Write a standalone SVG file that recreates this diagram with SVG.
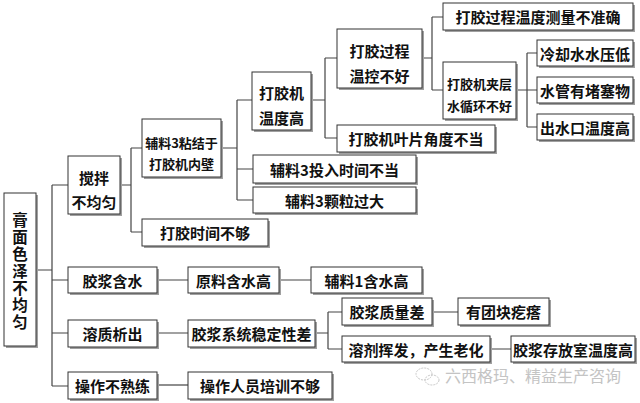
<svg xmlns="http://www.w3.org/2000/svg" width="640" height="403" viewBox="0 0 640 403">
<style>
.s{fill:#a0a0a0}
.b{fill:#fff;stroke:#333;stroke-width:1}
text{font-family:"Noto Sans CJK SC","Liberation Sans",sans-serif;font-weight:bold;fill:#111;text-anchor:middle;dominant-baseline:central}
.t15{font-size:15px}
.t13{font-size:13px}
.vt{font-size:15.5px;writing-mode:vertical-rl;text-anchor:start;letter-spacing:1.5px}
.c path{fill:none;stroke:#444;stroke-width:1.2}
.wm{font-size:16px;font-weight:normal;fill:#c4c4c4;text-anchor:start}
</style>
<rect width="640" height="403" fill="#fff"/>
<g class="c" id="connectors">
<path d="M36 270H52M52 185V386M52 185H68M52 280H68M52 333H68M52 386H68"/>
<path d="M120 185H131M131 148V232M131 148H142M131 232H142"/>
<path d="M221 148H237M237 100V200M237 100H252M237 169H253M237 200H253"/>
<path d="M311 100H325M325 58V138M325 58H337M325 138H337"/>
<path d="M422 58H432M432 17V90M432 17H443M432 90H443"/>
<path d="M516 90H527M527 53V127M527 53H537M527 90H537M527 127H537"/>
<path d="M157 280H188M279 280H311"/>
<path d="M157 333H188M315 333H328M328 312V349M328 312H342M328 349H342M432 312H458M490 349H511"/>
<path d="M157 385H188"/>
</g>
<g id="root"><rect class="s" x="6" y="195" width="32" height="153"/><rect class="b" x="4" y="193" width="32" height="153"/>
<text class="vt" x="20" y="212">膏面色泽不均匀</text></g>
<g id="n1"><rect class="s" x="70" y="158" width="52" height="58"/><rect class="b" x="68" y="156" width="52" height="58"/><text class="t15" x="94" y="177">搅拌</text><text class="t15" x="94" y="201">不均匀</text></g>
<g id="n2"><rect class="s" x="70" y="269" width="89" height="26"/><rect class="b" x="68" y="267" width="89" height="26"/><text class="t15" x="112.5" y="280">胶浆含水</text></g>
<g id="n3"><rect class="s" x="70" y="322" width="89" height="27"/><rect class="b" x="68" y="320" width="89" height="27"/><text class="t15" x="112.5" y="333.5">溶质析出</text></g>
<g id="n4"><rect class="s" x="70" y="374" width="89" height="27"/><rect class="b" x="68" y="372" width="89" height="27"/><text class="t15" x="112.5" y="385.5">操作不熟练</text></g>
<g id="n5"><rect class="s" x="144" y="121" width="79" height="58"/><rect class="b" x="142" y="119" width="79" height="58"/><text class="t13" x="181.5" y="142">辅料3粘结于</text><text class="t13" x="181.5" y="163">打胶机内壁</text></g>
<g id="n6"><rect class="s" x="144" y="221" width="126" height="27"/><rect class="b" x="142" y="219" width="126" height="27"/><text class="t15" x="205" y="232.5">打胶时间不够</text></g>
<g id="n7"><rect class="s" x="254" y="74" width="59" height="58"/><rect class="b" x="252" y="72" width="59" height="58"/><text class="t15" x="281.5" y="92">打胶机</text><text class="t15" x="281.5" y="117">温度高</text></g>
<g id="n8"><rect class="s" x="255" y="157" width="163" height="28"/><rect class="b" x="253" y="155" width="163" height="28"/><text class="t15" x="334.5" y="169">辅料3投入时间不当</text></g>
<g id="n9"><rect class="s" x="255" y="189" width="163" height="26"/><rect class="b" x="253" y="187" width="163" height="26"/><text class="t15" x="334.5" y="200">辅料3颗粒过大</text></g>
<g id="n10"><rect class="s" x="339" y="31" width="85" height="59"/><rect class="b" x="337" y="29" width="85" height="59"/><text class="t15" x="379.5" y="50">打胶过程</text><text class="t15" x="379.5" y="75">温控不好</text></g>
<g id="n11"><rect class="s" x="339" y="127" width="158" height="27"/><rect class="b" x="337" y="125" width="158" height="27"/><text class="t15" x="416" y="138.5">打胶机叶片角度不当</text></g>
<g id="n12"><rect class="s" x="445" y="5" width="190" height="27"/><rect class="b" x="443" y="3" width="190" height="27"/><text class="t15" x="538" y="16.5">打胶过程温度测量不准确</text></g>
<g id="n13"><rect class="s" x="445" y="64" width="73" height="57"/><rect class="b" x="443" y="62" width="73" height="57"/><text class="t13" x="479.5" y="83">打胶机夹层</text><text class="t13" x="479.5" y="105">水循环不好</text></g>
<g id="n14"><rect class="s" x="539" y="42" width="96" height="26"/><rect class="b" x="537" y="40" width="96" height="26"/><text class="t15" x="585" y="53">冷却水水压低</text></g>
<g id="n15"><rect class="s" x="539" y="79" width="96" height="26"/><rect class="b" x="537" y="77" width="96" height="26"/><text class="t15" x="585" y="90">水管有堵塞物</text></g>
<g id="n16"><rect class="s" x="539" y="116" width="96" height="26"/><rect class="b" x="537" y="114" width="96" height="26"/><text class="t15" x="585" y="127">出水口温度高</text></g>
<g id="n17"><rect class="s" x="190" y="269" width="91" height="26"/><rect class="b" x="188" y="267" width="91" height="26"/><text class="t15" x="233.5" y="280">原料含水高</text></g>
<g id="n18"><rect class="s" x="313" y="269" width="111" height="26"/><rect class="b" x="311" y="267" width="111" height="26"/><text class="t15" x="366.5" y="280">辅料1含水高</text></g>
<g id="n19"><rect class="s" x="190" y="322" width="127" height="27"/><rect class="b" x="188" y="320" width="127" height="27"/><text class="t15" x="251.5" y="333.5">胶浆系统稳定性差</text></g>
<g id="n20"><rect class="s" x="344" y="300" width="90" height="27"/><rect class="b" x="342" y="298" width="90" height="27"/><text class="t15" x="387" y="311.5">胶浆质量差</text></g>
<g id="n21"><rect class="s" x="460" y="300" width="91" height="27"/><rect class="b" x="458" y="298" width="91" height="27"/><text class="t15" x="503.5" y="311.5">有团块疙瘩</text></g>
<g id="n22"><rect class="s" x="344" y="338" width="148" height="26"/><rect class="b" x="342" y="336" width="148" height="26"/><text class="t15" x="416" y="349">溶剂挥发，产生老化</text></g>
<g id="n23"><rect class="s" x="513" y="338" width="124" height="26"/><rect class="b" x="511" y="336" width="124" height="26"/><text class="t15" x="573" y="349">胶浆存放室温度高</text></g>
<g id="n24"><rect class="s" x="190" y="374" width="144" height="27"/><rect class="b" x="188" y="372" width="144" height="27"/><text class="t15" x="260" y="385.5">操作人员培训不够</text></g>
<g id="watermark">
<ellipse cx="424" cy="374" rx="8" ry="6" fill="none" stroke="#c8c8c8" stroke-width="1" stroke-dasharray="2 1"/>
<ellipse cx="432" cy="380" rx="7" ry="5" fill="none" stroke="#c8c8c8" stroke-width="1" stroke-dasharray="2 1"/>
<text class="wm" x="445" y="375">六西格玛、精益生产咨询</text>
</g>
</svg>
